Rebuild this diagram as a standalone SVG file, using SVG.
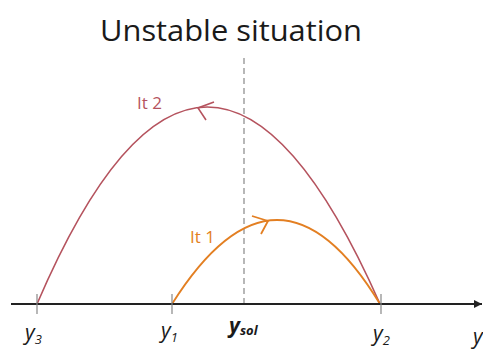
<svg xmlns="http://www.w3.org/2000/svg" width="483" height="350" viewBox="0 0 483 350">
<style>
.title{font-family:"Open Sans","Liberation Sans",sans-serif;font-size:30px;fill:#1a1a1a}
.lbl{font-family:"Open Sans","Liberation Sans",sans-serif;font-style:italic;font-size:21px;fill:#1a1a1a}
.sub{font-size:13px}
.it{font-family:"Open Sans","Liberation Sans",sans-serif;font-size:17px}
.red{stroke:#b5535e;fill:none;stroke-width:1.6}
.org{stroke:#e37f22;fill:none;stroke-width:1.8}
.tick{stroke:#888;stroke-width:1.2}
</style>
<defs>
<marker id="ax" viewBox="0 0 10 10" refX="10" refY="5" markerWidth="8" markerHeight="8" markerUnits="userSpaceOnUse" orient="auto"><path d="M0,0 L10,5 L0,10 Z" fill="#222"/></marker>
</defs>
<text class="title" x="100" y="41" textLength="262" lengthAdjust="spacingAndGlyphs">Unstable situation</text>
<g id="connectors">
<line x1="244" y1="58" x2="244" y2="304" stroke="#999" stroke-width="1.4" stroke-dasharray="6,4"/>
<path id="it2" class="red" d="M37,304 Q206,-90 380,304"/>
<path id="it1" class="org" d="M172,304 Q278,136 380,304"/>
<path class="red" d="M214,102 L198,108 L206,120"/>
<path class="org" d="M252,216 L268,221 L261,234"/>
</g>
<g id="axis">
<line x1="11" y1="304" x2="482" y2="304" stroke="#222" stroke-width="1.8" marker-end="url(#ax)"/>
<line class="tick" x1="37" y1="294" x2="37" y2="314"/>
<line class="tick" x1="172" y1="294" x2="172" y2="314"/>
<line class="tick" x1="381" y1="294" x2="381" y2="314"/>
</g>
<g id="labels">
<text class="it" x="137" y="109" fill="#b5535e">It 2</text>
<text class="it" x="190" y="243" fill="#e37f22">It 1</text>
<text class="lbl" x="25" y="340">y<tspan class="sub" dy="4">3</tspan></text>
<text class="lbl" x="161" y="338">y<tspan class="sub" dy="4">1</tspan></text>
<text class="lbl" x="229" y="333" font-weight="bold">y<tspan class="sub" dy="2">sol</tspan></text>
<text class="lbl" x="373" y="341">y<tspan class="sub" dy="4">2</tspan></text>
<text class="lbl" x="473" y="344">y</text>
</g>
</svg>
